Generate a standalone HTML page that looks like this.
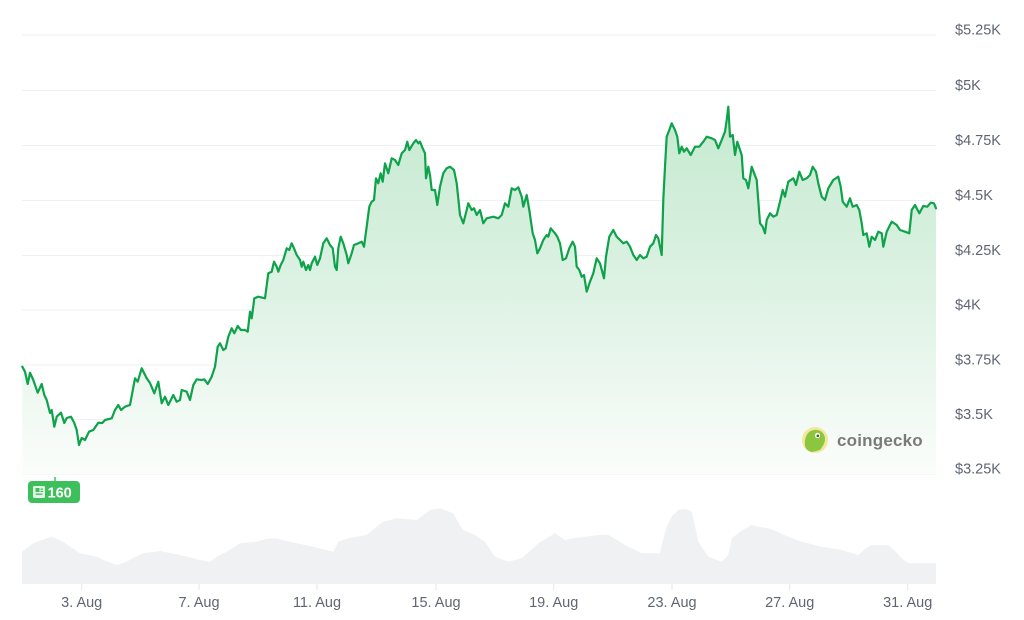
<!DOCTYPE html>
<html>
<head>
<meta charset="utf-8">
<style>
  html,body{margin:0;padding:0;background:#fff;}
  body{width:1024px;height:620px;overflow:hidden;}
  svg{display:block;}
  .lbl{font-family:"Liberation Sans",Arial,sans-serif;font-size:14.5px;fill:#5f6672;}
</style>
</head>
<body>
<svg width="1024" height="620" viewBox="0 0 1024 620" xmlns="http://www.w3.org/2000/svg">
  <defs>
    <linearGradient id="fillg" gradientUnits="userSpaceOnUse" x1="0" y1="105" x2="0" y2="474">
      <stop offset="0" stop-color="#c4e9cf"/>
      <stop offset="0.55" stop-color="#e0f3e6"/>
      <stop offset="1" stop-color="#fbfdfb"/>
    </linearGradient>
  </defs>

  <!-- gridlines -->
  <g stroke="#eef0f2" stroke-width="1">
    <line x1="22" y1="35" x2="936" y2="35"/>
    <line x1="22" y1="90.5" x2="936" y2="90.5"/>
    <line x1="22" y1="145.5" x2="936" y2="145.5"/>
    <line x1="22" y1="200.5" x2="936" y2="200.5"/>
    <line x1="22" y1="255.5" x2="936" y2="255.5"/>
    <line x1="22" y1="310" x2="936" y2="310"/>
    <line x1="22" y1="365" x2="936" y2="365"/>
    <line x1="22" y1="419.5" x2="936" y2="419.5"/>
    <line x1="22" y1="474" x2="936" y2="474"/>
  </g>

  <!-- price fill -->
  <path fill="url(#fillg)" d="M22.3,366.7 L25,371.7 L27.7,384 L30,372.7 L33.3,380 L37.7,392.7 L41.7,384 L44.3,395 L46.7,400 L50,413 L51.7,410 L54.3,426.7 L56.7,416.7 L61,412.7 L64.3,423 L66.7,418 L71,416.7 L74.3,423 L76.7,430 L79,445 L81.7,438 L85,440 L89,431.7 L93.3,430 L98.3,422.7 L102.3,423 L105,420 L111.7,418.3 L115,410 L118.3,405 L121,410 L125,406.7 L130,405 L135,378.3 L137.7,381.7 L141.7,368.3 L146.7,378.3 L150,383 L154.3,393.3 L158.3,381.7 L161.7,403.3 L165,396.7 L168.3,405 L173.3,395 L176.7,401.7 L180,400 L181.7,390 L186.7,391.7 L190,400 L193.3,385 L196.7,379.3 L201.7,380 L204.3,379.3 L207.7,384 L211.7,376.7 L215,366.7 L217.7,346.7 L220,343.3 L223.3,350 L225.7,348.3 L228.3,336.7 L231.7,328.3 L234.3,333.3 L237.7,326 L241,330 L245,330 L247.7,331.7 L250,311.7 L251.7,318.3 L254.3,298.3 L258.3,296.7 L265,298.3 L268.3,273.3 L271.7,271.7 L274,261.7 L276.7,266.7 L278.3,271.7 L280.7,265 L283.3,260 L286.7,248.3 L289.3,250 L291.7,243.3 L294,248.3 L296.7,255 L300,260 L301.7,266.7 L303.3,261.7 L306,270 L308.3,265 L310,270 L311.7,263.3 L315,256.7 L317.3,265 L320,258.3 L323.3,243.3 L326.7,238.3 L330,245 L332.7,248.3 L335,266.7 L336.7,270 L338.3,248.3 L340.7,236.7 L343.3,243.3 L346.7,255 L348.3,263.3 L351.7,253.3 L354,245 L358.3,243.3 L361.7,241.7 L364,246.7 L366.7,226.7 L369.3,206.7 L371.7,201.7 L374,200 L376,178.3 L378.3,183.3 L380.7,173.3 L382.7,181.7 L385,163.3 L388.3,173.3 L391.7,158.3 L395,160 L398.3,165 L401.7,153.3 L405,150 L407.3,141.7 L409.3,150 L413.3,143.3 L416,140 L418.3,143.3 L420,141.7 L422.7,148.3 L425,153.3 L426,178.3 L428.3,166.7 L430,175 L431.7,190 L435,190 L437.3,205 L440,186.7 L443.3,173.3 L446.7,168.3 L450,166.7 L454,170 L456.7,183.3 L460,215 L463.3,223.3 L466.7,210 L468.3,203.3 L471.7,210 L474,208.3 L476.7,215 L480,210 L483.3,223.3 L486.7,218.3 L493.3,216.7 L498.3,218.3 L501.7,215 L505,203.3 L508.3,206.7 L511.7,188.3 L515,190 L518.3,187.3 L521.7,196.7 L523.3,206.7 L526.7,195 L529.3,210 L532.7,233.3 L535,240 L537.3,253.3 L540,248.3 L543.3,240 L546.7,235 L548.3,236.7 L550.7,228.3 L555,233.3 L557.3,236.7 L560,243.3 L562.7,260 L566,258.3 L569.3,248.3 L572.7,241.7 L575,246.7 L576.7,266.7 L579.3,270 L581.7,276.7 L584,275 L586.7,291.7 L590,281.7 L593.3,273.3 L596.7,258.3 L600,263.3 L604,278.3 L606,256.7 L609.3,236.7 L613.3,230 L616.7,236.7 L620,240 L623.3,243.3 L626.7,241.7 L630,246.7 L633.3,255 L636.7,260 L640,255 L643.3,258.3 L646.7,256.7 L650,246.7 L653.3,243.3 L656,235 L658.3,238.3 L661.7,255 L663.3,200 L665,166.7 L666.7,136.7 L669.3,130 L671.7,123.3 L675,130 L677.3,136.7 L679.3,153.3 L681.7,146.7 L684,151.7 L686.7,148.3 L690.7,155 L695,146.7 L699.3,146.7 L703.3,141.7 L706.7,136.7 L711.7,138.3 L715,140 L718.3,148.3 L721.7,140 L725,131.7 L726.7,120 L728.3,106.7 L730,136.7 L732.7,135 L735,155 L737.3,141.7 L741.7,155 L743.3,178.3 L746,180 L748.3,188.3 L751.7,166.7 L756.7,180 L760,223.3 L762.7,226.7 L765,233.3 L766.7,220 L770,213.3 L773.3,216.7 L776.7,215 L780,201.7 L782.7,190 L785,196.7 L788.3,181.7 L793.3,178.3 L796,185 L799.3,171.7 L802.7,180 L806.7,178.3 L810,175 L812.7,166.7 L816,171.7 L818.3,183.3 L821.7,196.7 L825,200 L828.3,188.3 L833.3,180 L838.3,176.7 L840.7,186.7 L842.7,201.7 L846.7,206.7 L850,198.3 L852.7,206.7 L856.7,205 L859.3,210 L861.7,223.3 L863.3,235 L866.7,233.3 L869.3,246.7 L871.7,236.7 L875,240 L878.3,231.7 L881.7,233.3 L883.3,246.7 L886.7,231.7 L891.7,221.7 L896.7,225 L900,230 L905,231.7 L909.3,233.3 L911.7,210 L915,205 L919.3,213.3 L923.3,206 L927.3,206.7 L930.7,202.7 L934,203.3 L936,208.3 L936,474 L22.3,474 Z"/>

  <!-- coingecko watermark -->
  <g>
    <circle cx="815" cy="440" r="13" fill="#f3e79b"/>
    <path d="M805,446 C804,438 807,431 814,430 C820,429 825,433 825,439 C825,444 822,447 820,450 L812,452 C808,451 806,449 805,446 Z" fill="#8cc641"/>
    <circle cx="817.5" cy="435.5" r="2.6" fill="#ffffff"/>
    <circle cx="817.8" cy="435.8" r="1.3" fill="#4a5a2a"/>
    <text x="837" y="446" font-family="'Liberation Sans',Arial,sans-serif" font-size="17" font-weight="bold" letter-spacing="0.2" fill="#7a7a7a">coingecko</text>
  </g>

  <!-- price line -->
  <path fill="none" stroke="#0ea24a" stroke-width="2.2" stroke-linejoin="round" stroke-linecap="round" d="M22.3,366.7 L25,371.7 L27.7,384 L30,372.7 L33.3,380 L37.7,392.7 L41.7,384 L44.3,395 L46.7,400 L50,413 L51.7,410 L54.3,426.7 L56.7,416.7 L61,412.7 L64.3,423 L66.7,418 L71,416.7 L74.3,423 L76.7,430 L79,445 L81.7,438 L85,440 L89,431.7 L93.3,430 L98.3,422.7 L102.3,423 L105,420 L111.7,418.3 L115,410 L118.3,405 L121,410 L125,406.7 L130,405 L135,378.3 L137.7,381.7 L141.7,368.3 L146.7,378.3 L150,383 L154.3,393.3 L158.3,381.7 L161.7,403.3 L165,396.7 L168.3,405 L173.3,395 L176.7,401.7 L180,400 L181.7,390 L186.7,391.7 L190,400 L193.3,385 L196.7,379.3 L201.7,380 L204.3,379.3 L207.7,384 L211.7,376.7 L215,366.7 L217.7,346.7 L220,343.3 L223.3,350 L225.7,348.3 L228.3,336.7 L231.7,328.3 L234.3,333.3 L237.7,326 L241,330 L245,330 L247.7,331.7 L250,311.7 L251.7,318.3 L254.3,298.3 L258.3,296.7 L265,298.3 L268.3,273.3 L271.7,271.7 L274,261.7 L276.7,266.7 L278.3,271.7 L280.7,265 L283.3,260 L286.7,248.3 L289.3,250 L291.7,243.3 L294,248.3 L296.7,255 L300,260 L301.7,266.7 L303.3,261.7 L306,270 L308.3,265 L310,270 L311.7,263.3 L315,256.7 L317.3,265 L320,258.3 L323.3,243.3 L326.7,238.3 L330,245 L332.7,248.3 L335,266.7 L336.7,270 L338.3,248.3 L340.7,236.7 L343.3,243.3 L346.7,255 L348.3,263.3 L351.7,253.3 L354,245 L358.3,243.3 L361.7,241.7 L364,246.7 L366.7,226.7 L369.3,206.7 L371.7,201.7 L374,200 L376,178.3 L378.3,183.3 L380.7,173.3 L382.7,181.7 L385,163.3 L388.3,173.3 L391.7,158.3 L395,160 L398.3,165 L401.7,153.3 L405,150 L407.3,141.7 L409.3,150 L413.3,143.3 L416,140 L418.3,143.3 L420,141.7 L422.7,148.3 L425,153.3 L426,178.3 L428.3,166.7 L430,175 L431.7,190 L435,190 L437.3,205 L440,186.7 L443.3,173.3 L446.7,168.3 L450,166.7 L454,170 L456.7,183.3 L460,215 L463.3,223.3 L466.7,210 L468.3,203.3 L471.7,210 L474,208.3 L476.7,215 L480,210 L483.3,223.3 L486.7,218.3 L493.3,216.7 L498.3,218.3 L501.7,215 L505,203.3 L508.3,206.7 L511.7,188.3 L515,190 L518.3,187.3 L521.7,196.7 L523.3,206.7 L526.7,195 L529.3,210 L532.7,233.3 L535,240 L537.3,253.3 L540,248.3 L543.3,240 L546.7,235 L548.3,236.7 L550.7,228.3 L555,233.3 L557.3,236.7 L560,243.3 L562.7,260 L566,258.3 L569.3,248.3 L572.7,241.7 L575,246.7 L576.7,266.7 L579.3,270 L581.7,276.7 L584,275 L586.7,291.7 L590,281.7 L593.3,273.3 L596.7,258.3 L600,263.3 L604,278.3 L606,256.7 L609.3,236.7 L613.3,230 L616.7,236.7 L620,240 L623.3,243.3 L626.7,241.7 L630,246.7 L633.3,255 L636.7,260 L640,255 L643.3,258.3 L646.7,256.7 L650,246.7 L653.3,243.3 L656,235 L658.3,238.3 L661.7,255 L663.3,200 L665,166.7 L666.7,136.7 L669.3,130 L671.7,123.3 L675,130 L677.3,136.7 L679.3,153.3 L681.7,146.7 L684,151.7 L686.7,148.3 L690.7,155 L695,146.7 L699.3,146.7 L703.3,141.7 L706.7,136.7 L711.7,138.3 L715,140 L718.3,148.3 L721.7,140 L725,131.7 L726.7,120 L728.3,106.7 L730,136.7 L732.7,135 L735,155 L737.3,141.7 L741.7,155 L743.3,178.3 L746,180 L748.3,188.3 L751.7,166.7 L756.7,180 L760,223.3 L762.7,226.7 L765,233.3 L766.7,220 L770,213.3 L773.3,216.7 L776.7,215 L780,201.7 L782.7,190 L785,196.7 L788.3,181.7 L793.3,178.3 L796,185 L799.3,171.7 L802.7,180 L806.7,178.3 L810,175 L812.7,166.7 L816,171.7 L818.3,183.3 L821.7,196.7 L825,200 L828.3,188.3 L833.3,180 L838.3,176.7 L840.7,186.7 L842.7,201.7 L846.7,206.7 L850,198.3 L852.7,206.7 L856.7,205 L859.3,210 L861.7,223.3 L863.3,235 L866.7,233.3 L869.3,246.7 L871.7,236.7 L875,240 L878.3,231.7 L881.7,233.3 L883.3,246.7 L886.7,231.7 L891.7,221.7 L896.7,225 L900,230 L905,231.7 L909.3,233.3 L911.7,210 L915,205 L919.3,213.3 L923.3,206 L927.3,206.7 L930.7,202.7 L934,203.3 L936,208.3"/>

  <!-- volume area -->
  <path fill="#eff1f3" d="M22,551.7 L33.3,543.3 L42,540 L51.7,536.7 L63.3,541.7 L72,548 L80,553.3 L96.7,556.7 L106,561 L116.7,565 L126.7,561.7 L135,557 L143.3,553.3 L160,551 L180,555 L200,560 L210,561.7 L218,556 L226.7,551.7 L240,543.3 L256.7,541.7 L266,539 L276.7,538.3 L286,541 L296.7,543.3 L313.3,546.7 L333.3,551.7 L338.3,541.7 L348.3,538.3 L366.7,535 L375,528 L383.3,521.7 L396.7,518.3 L416.7,520 L423,515 L430,510 L440,508.3 L453.3,513.3 L458,522 L463.3,530 L475,535 L485,541.7 L495,556.7 L508.3,561.7 L521.7,558.3 L530,551 L538.3,543.3 L555,533.3 L565,540 L575,538 L585,536.7 L598,535 L608.3,535 L617,540 L625,545 L641.7,553.3 L660,553.3 L663,540 L666.7,526.7 L672,516 L678.3,510 L686,509 L691.7,511.7 L695,526 L698.3,541.7 L708.3,556.7 L721.7,561.7 L728.3,555 L731.7,538.3 L741,531 L751.7,525 L760,527 L768.3,528.3 L778,532 L788.3,536.7 L801.7,541.7 L821.7,546.7 L841.7,550 L858.3,555 L865,549 L871.7,545 L888.3,545 L895,551 L901.7,558.3 L908.3,563.3 L936,563.3 L936,584 L22,584 Z"/>

  <!-- x ticks -->
  <g stroke="#e3e6ea" stroke-width="1">
    <line x1="81.7" y1="584" x2="81.7" y2="590"/>
    <line x1="199" y1="584" x2="199" y2="590"/>
    <line x1="317" y1="584" x2="317" y2="590"/>
    <line x1="436" y1="584" x2="436" y2="590"/>
    <line x1="553.7" y1="584" x2="553.7" y2="590"/>
    <line x1="672" y1="584" x2="672" y2="590"/>
    <line x1="789.7" y1="584" x2="789.7" y2="590"/>
    <line x1="907.7" y1="584" x2="907.7" y2="590"/>
  </g>

  <!-- x labels -->
  <g class="lbl" text-anchor="middle">
    <text x="81.7" y="607">3. Aug</text>
    <text x="199" y="607">7. Aug</text>
    <text x="317" y="607">11. Aug</text>
    <text x="436" y="607">15. Aug</text>
    <text x="553.7" y="607">19. Aug</text>
    <text x="672" y="607">23. Aug</text>
    <text x="789.7" y="607">27. Aug</text>
    <text x="907.7" y="607">31. Aug</text>
  </g>

  <!-- y labels -->
  <g class="lbl">
    <text x="955" y="34.5">$5.25K</text>
    <text x="955" y="90">$5K</text>
    <text x="955" y="145">$4.75K</text>
    <text x="955" y="200">$4.5K</text>
    <text x="955" y="255">$4.25K</text>
    <text x="955" y="309.5">$4K</text>
    <text x="955" y="364.5">$3.75K</text>
    <text x="955" y="419">$3.5K</text>
    <text x="955" y="473.5">$3.25K</text>
  </g>

  <!-- news badge -->
  <g>
    <line x1="55" y1="477" x2="55" y2="481" stroke="#3dbf5c" stroke-width="1.5"/>
    <rect x="28" y="481" width="52" height="22" rx="4" fill="#3dbf5c"/>
    <rect x="33" y="486" width="12" height="12" rx="1.5" fill="#e6f7ea"/>
    <rect x="35.5" y="488" width="4" height="4" fill="#3dbf5c"/>
    <rect x="35.5" y="493.5" width="7" height="1.3" fill="#3dbf5c"/>
    <rect x="40.5" y="488.5" width="2.5" height="1.2" fill="#3dbf5c"/>
    <rect x="40.5" y="490.8" width="2.5" height="1.2" fill="#3dbf5c"/>
    <text x="47.5" y="497.5" font-family="'Liberation Sans',Arial,sans-serif" font-size="14.5" font-weight="bold" fill="#ffffff">160</text>
  </g>
</svg>
</body>
</html>
